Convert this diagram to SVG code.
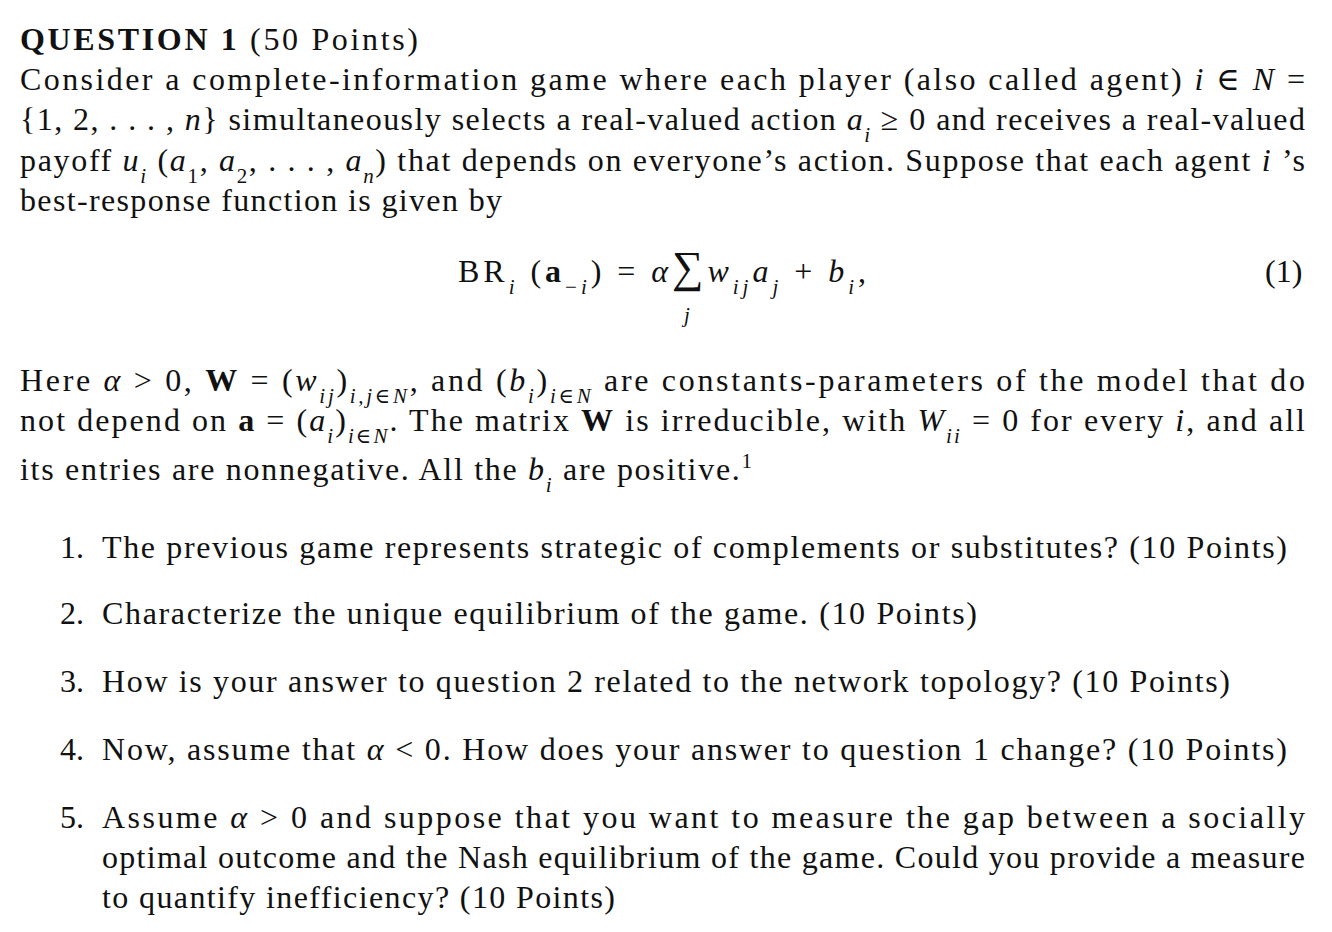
<svg xmlns="http://www.w3.org/2000/svg" width="1332" height="932" viewBox="0 0 1332 932">
<style>
text{font-family:"Liberation Serif","DejaVu Serif",serif;font-size:32px;fill:#111}
.i{font-style:italic}
.b{font-weight:bold}
.s{font-size:21px}
.sum{font-size:44px}
</style>
<rect width="1332" height="932" fill="#fff"/>
<text x="20" y="50" textLength="398" lengthAdjust="spacing"><tspan class="b">QUESTION 1</tspan> (50 Points)</text>
<text x="20" y="90" textLength="1285" lengthAdjust="spacing">Consider a complete-information game where each player (also called agent) <tspan class="i">i</tspan> ∈ <tspan class="i">N</tspan> =</text>
<text x="20" y="130" textLength="1285" lengthAdjust="spacing">{1, 2, . . . , <tspan class="i">n</tspan>} simultaneously selects a real-valued action <tspan class="i">a</tspan><tspan class="i s" baseline-shift="sub">i</tspan> ≥ 0 and receives a real-valued</text>
<text x="20" y="171" textLength="1285" lengthAdjust="spacing">payoff <tspan class="i">u</tspan><tspan class="i s" baseline-shift="sub">i</tspan> (<tspan class="i">a</tspan><tspan class="s" baseline-shift="sub">1</tspan>, <tspan class="i">a</tspan><tspan class="s" baseline-shift="sub">2</tspan>, . . . , <tspan class="i">a</tspan><tspan class="i s" baseline-shift="sub">n</tspan>) that depends on everyone’s action. Suppose that each agent <tspan class="i">i</tspan> ’s</text>
<text x="20" y="211" textLength="482" lengthAdjust="spacing">best-response function is given by</text>
<text x="458" y="282" textLength="408" lengthAdjust="spacing">BR<tspan class="i s" baseline-shift="sub">i</tspan> (<tspan class="b">a</tspan><tspan class="s" baseline-shift="sub">−<tspan class="i">i</tspan></tspan>) = <tspan class="i">α</tspan><tspan class="sum">∑</tspan><tspan class="i">w</tspan><tspan class="i s" baseline-shift="sub">ij</tspan><tspan class="i">a</tspan><tspan class="i s" baseline-shift="sub">j</tspan> + <tspan class="i">b</tspan><tspan class="i s" baseline-shift="sub">i</tspan>,</text>
<text x="684" y="322" class="i s">j</text>
<text x="1265" y="282">(1)</text>
<text x="20" y="391" textLength="1285" lengthAdjust="spacing">Here <tspan class="i">α</tspan> &gt; 0, <tspan class="b">W</tspan> = (<tspan class="i">w</tspan><tspan class="i s" baseline-shift="sub">ij</tspan>)<tspan class="i s" baseline-shift="sub">i,j∈N</tspan>, and (<tspan class="i">b</tspan><tspan class="i s" baseline-shift="sub">i</tspan>)<tspan class="i s" baseline-shift="sub">i∈N</tspan> are constants-parameters of the model that do</text>
<text x="20" y="431" textLength="1285" lengthAdjust="spacing">not depend on <tspan class="b">a</tspan> = (<tspan class="i">a</tspan><tspan class="i s" baseline-shift="sub">i</tspan>)<tspan class="i s" baseline-shift="sub">i∈N</tspan>. The matrix <tspan class="b">W</tspan> is irreducible, with <tspan class="i">W</tspan><tspan class="i s" baseline-shift="sub">ii</tspan> = 0 for every <tspan class="i">i</tspan>, and all</text>
<text x="20" y="480" textLength="732" lengthAdjust="spacing">its entries are nonnegative. All the <tspan class="i">b</tspan><tspan class="i s" baseline-shift="sub">i</tspan> are positive.<tspan class="s" baseline-shift="super">1</tspan></text>
<text x="60" y="558">1.</text>
<text x="102" y="558" textLength="1185" lengthAdjust="spacing">The previous game represents strategic of complements or substitutes? (10 Points)</text>
<text x="60" y="624">2.</text>
<text x="102" y="624" textLength="875" lengthAdjust="spacing">Characterize the unique equilibrium of the game. (10 Points)</text>
<text x="60" y="692">3.</text>
<text x="102" y="692" textLength="1128" lengthAdjust="spacing">How is your answer to question 2 related to the network topology? (10 Points)</text>
<text x="60" y="760">4.</text>
<text x="102" y="760" textLength="1185" lengthAdjust="spacing">Now, assume that <tspan class="i">α</tspan> &lt; 0. How does your answer to question 1 change? (10 Points)</text>
<text x="60" y="828">5.</text>
<text x="102" y="828" textLength="1203" lengthAdjust="spacing">Assume <tspan class="i">α</tspan> &gt; 0 and suppose that you want to measure the gap between a socially</text>
<text x="102" y="868" textLength="1203" lengthAdjust="spacing">optimal outcome and the Nash equilibrium of the game. Could you provide a measure</text>
<text x="102" y="908" textLength="513" lengthAdjust="spacing">to quantify inefficiency? (10 Points)</text>
</svg>
